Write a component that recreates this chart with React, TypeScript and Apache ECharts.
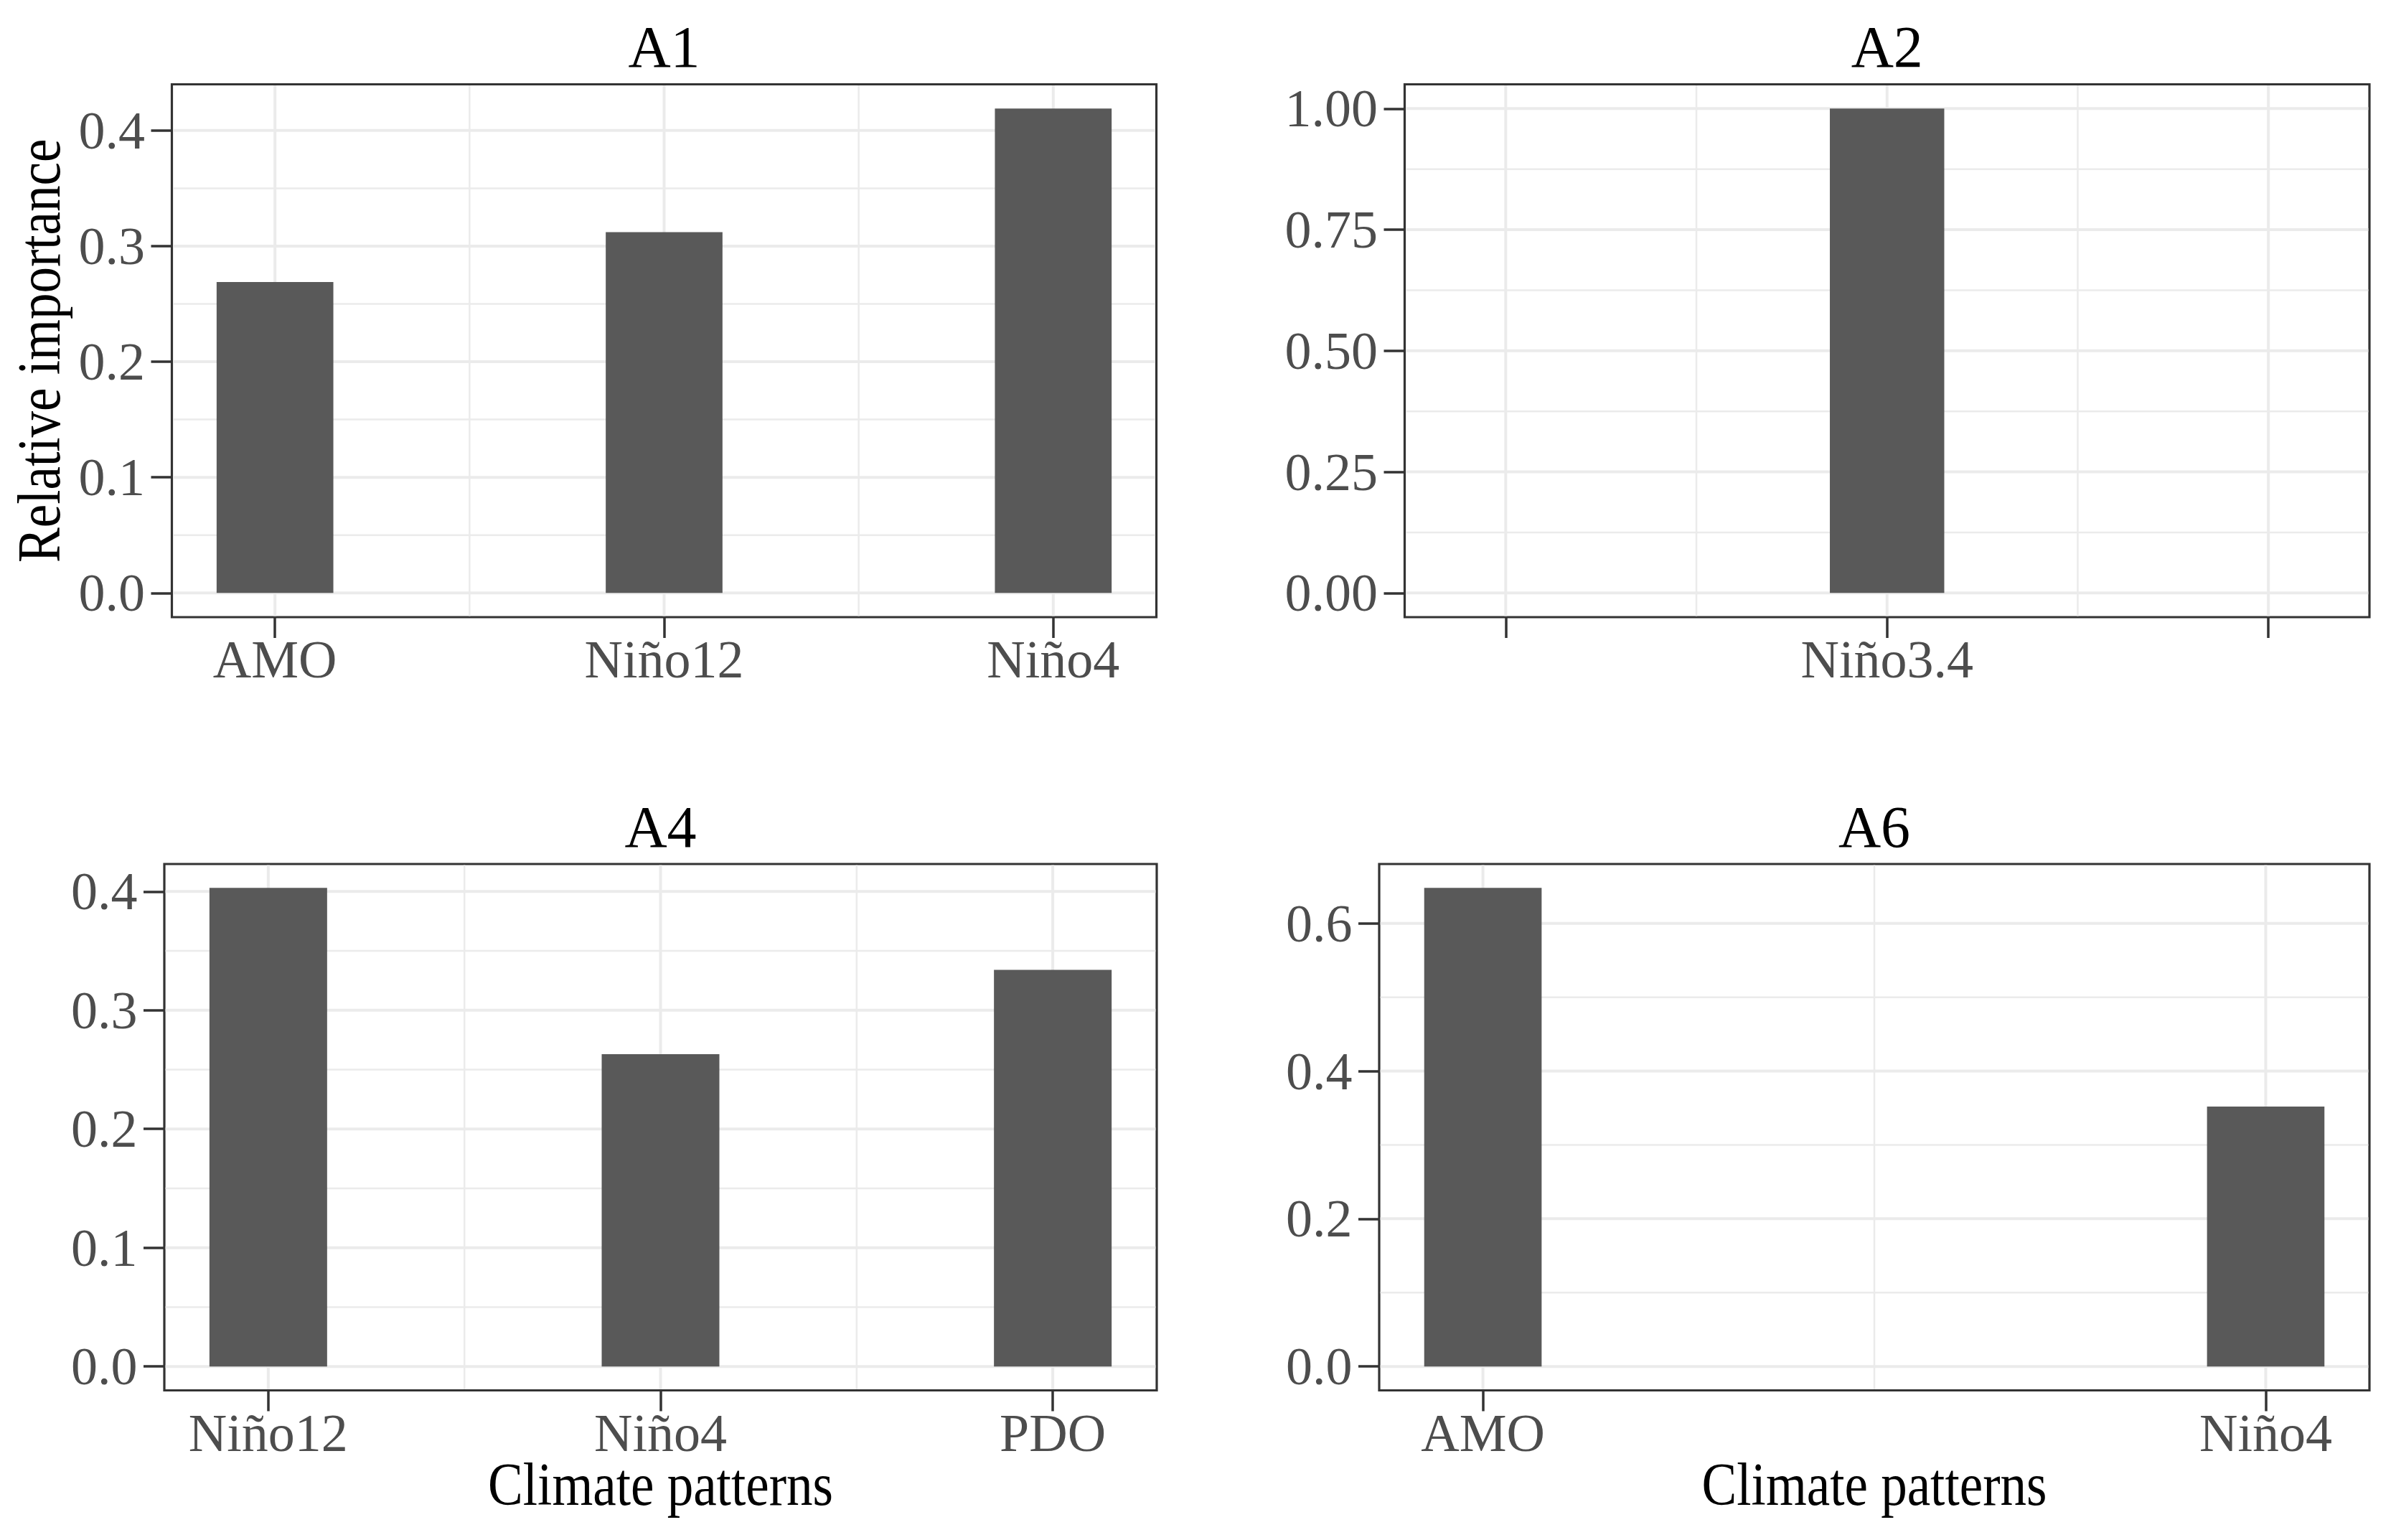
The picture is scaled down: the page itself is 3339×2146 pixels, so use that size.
import React, { useEffect, useRef } from 'react';
import * as echarts from 'echarts';

// ---------- data ----------
const a1Categories = ['AMO', 'Niño12', 'Niño4'];
const a1Values = [0.269, 0.312, 0.419];
const a2Categories = ['', 'Niño3.4', ''];
const a2Values: (number | null)[] = [null, 1.0, null];
const a4Categories = ['Niño12', 'Niño4', 'PDO'];
const a4Values = [0.403, 0.263, 0.334];
const a6Categories = ['AMO', 'Niño4'];
const a6Values = [0.648, 0.352];

const a1YTicks = [0, 0.1, 0.2, 0.3, 0.4];
const a1YLabels = ['0.0', '0.1', '0.2', '0.3', '0.4'];
const a1YMinor = [0.05, 0.15, 0.25, 0.35];
const a2YTicks = [0, 0.25, 0.5, 0.75, 1];
const a2YLabels = ['0.00', '0.25', '0.50', '0.75', '1.00'];
const a2YMinor = [0.125, 0.375, 0.625, 0.875];
const a4YTicks = [0, 0.1, 0.2, 0.3, 0.4];
const a4YLabels = ['0.0', '0.1', '0.2', '0.3', '0.4'];
const a4YMinor = [0.05, 0.15, 0.25, 0.35];
const a6YTicks = [0, 0.2, 0.4, 0.6];
const a6YLabels = ['0.0', '0.2', '0.4', '0.6'];
const a6YMinor = [0.1, 0.3, 0.5];

const panelTitles = ['A1', 'A2', 'A4', 'A6'];
const barWidths = [0.3, 0.3, 0.3, 0.15];
const yAxisTitle = 'Relative importance';
const xAxisTitle = 'Climate patterns';

// ---------- layout / style ----------
const layout = [
  { left: 239.5, top: 117.5, width: 1372, height: 742.5 },
  { left: 1957.5, top: 117.5, width: 1344.5, height: 742.5 },
  { left: 229, top: 1204, width: 1383, height: 733.5 },
  { left: 1922, top: 1204, width: 1380, height: 733.5 },
];
const FONT = 'Liberation Serif';
const BAR = '#595959';
const GRIDC = '#EBEBEB';
const DARK = '#333333';
const LABELC = '#4D4D4D';

const panels = [
  { cats: a1Categories, vals: a1Values, yTicks: a1YTicks, yLabels: a1YLabels, yMinor: a1YMinor },
  { cats: a2Categories, vals: a2Values, yTicks: a2YTicks, yLabels: a2YLabels, yMinor: a2YMinor },
  { cats: a4Categories, vals: a4Values, yTicks: a4YTicks, yLabels: a4YLabels, yMinor: a4YMinor },
  { cats: a6Categories, vals: a6Values, yTicks: a6YTicks, yLabels: a6YLabels, yMinor: a6YMinor },
];

function buildOption() {
  const grid: any[] = [];
  const xAxis: any[] = [];
  const yAxis: any[] = [];
  const series: any[] = [];
  const graphic: any[] = [];

  panels.forEach((p, i) => {
    const L = layout[i];
    const n = p.cats.length;
    const w = barWidths[i];
    const xPad = w / 2 + 0.05 * (n - 1 + w);
    const xMin = -xPad;
    const xMax = n - 1 + xPad;
    const maxV = Math.max(...(p.vals.filter((v) => v != null) as number[]));
    const yPad = 0.05 * maxV;
    const yMin = -yPad;
    const yMax = maxV + yPad;
    const xTicks = p.cats.map((_, k) => k);
    const xMinor = p.cats.slice(0, n - 1).map((_, k) => k + 0.5);

    grid.push({
      left: L.left,
      top: L.top,
      width: L.width,
      height: L.height,
      show: true,
      borderColor: DARK,
      borderWidth: 3.2,
      backgroundColor: 'transparent',
      containLabel: false,
      outerBoundsMode: 'none',
    });

    xAxis.push({
      type: 'value',
      gridIndex: i,
      min: xMin,
      max: xMax,
      axisLine: { show: false, onZero: false },
      splitLine: { show: false },
      minorSplitLine: { show: false },
      axisTick: {
        show: true,
        customValues: xTicks,
        length: 29,
        lineStyle: { color: DARK, width: 3.5 },
      },
      axisLabel: {
        customValues: xTicks,
        formatter: (v: number) => p.cats[Math.round(v)] ?? '',
        margin: 22,
        fontFamily: FONT,
        fontSize: 74,
        lineHeight: 74,
        color: LABELC,
      },
    });

    yAxis.push({
      type: 'value',
      gridIndex: i,
      min: yMin,
      max: yMax,
      axisLine: { show: false, onZero: false },
      splitLine: { show: false },
      minorSplitLine: { show: false },
      axisTick: {
        show: true,
        customValues: p.yTicks,
        length: 29,
        lineStyle: { color: DARK, width: 3.5 },
      },
      axisLabel: {
        customValues: p.yTicks,
        formatter: (v: number) => {
          const k = p.yTicks.findIndex((t) => Math.abs(t - v) < 1e-6);
          return k >= 0 ? p.yLabels[k] : '';
        },
        margin: 37.5,
        fontFamily: FONT,
        fontSize: 74,
        lineHeight: 74,
        color: LABELC,
      },
    });

    // horizontal grid lines
    const hData = [
      ...p.yMinor.map((v) => [v, 0]),
      ...p.yTicks.map((v) => [v, 1]),
    ];
    series.push({
      type: 'custom',
      xAxisIndex: i,
      yAxisIndex: i,
      silent: true,
      z: 1,
      encode: { y: 0 },
      data: hData,
      renderItem: (params: any, api: any) => {
        const cs = params.coordSys;
        const y = api.coord([xMin, api.value(0)])[1];
        const major = api.value(1) === 1;
        return {
          type: 'line',
          shape: { x1: cs.x + 1.6, y1: y, x2: cs.x + cs.width - 1.6, y2: y },
          style: { stroke: GRIDC, lineWidth: major ? 4 : 2.5 },
        };
      },
    });
    // vertical grid lines
    const vData = [
      ...xMinor.map((v) => [v, 0]),
      ...xTicks.map((v) => [v, 1]),
    ];
    series.push({
      type: 'custom',
      xAxisIndex: i,
      yAxisIndex: i,
      silent: true,
      z: 1,
      encode: { x: 0 },
      data: vData,
      renderItem: (params: any, api: any) => {
        const cs = params.coordSys;
        const x = api.coord([api.value(0), 0])[0];
        const major = api.value(1) === 1;
        return {
          type: 'line',
          shape: { x1: x, y1: cs.y + 1.6, x2: x, y2: cs.y + cs.height - 1.6 },
          style: { stroke: GRIDC, lineWidth: major ? 4 : 2.5 },
        };
      },
    });
    // bars
    const barData: number[][] = [];
    p.vals.forEach((v, k) => {
      if (v != null) barData.push([k, v]);
    });
    series.push({
      type: 'custom',
      name: panelTitles[i],
      xAxisIndex: i,
      yAxisIndex: i,
      z: 2,
      encode: { x: 0, y: 1 },
      data: barData,
      renderItem: (_params: any, api: any) => {
        const x = api.value(0);
        const v = api.value(1);
        const p0 = api.coord([x - w / 2, 0]);
        const p1 = api.coord([x + w / 2, v]);
        return {
          type: 'rect',
          shape: { x: p0[0], y: p1[1], width: p1[0] - p0[0], height: p0[1] - p1[1] },
          style: { fill: BAR },
        };
      },
    });

    // panel title
    graphic.push({
      type: 'text',
      x: L.left + L.width / 2,
      y: L.top - 52,
      style: {
        text: panelTitles[i],
        fontFamily: FONT,
        fontSize: 82,
        fill: '#000000',
        align: 'center',
        verticalAlign: 'middle',
      },
    });
  });

  // y-axis title (A1 only)
  graphic.push({
    type: 'text',
    x: 54.6,
    y: layout[0].top + layout[0].height / 2,
    rotation: Math.PI / 2,
    scaleX: 0.87,
    style: {
      text: yAxisTitle,
      fontFamily: FONT,
      fontSize: 84,
      fill: '#000000',
      align: 'center',
      verticalAlign: 'middle',
    },
  });
  // x-axis titles (bottom row)
  [2, 3].forEach((i) => {
    const L = layout[i];
    graphic.push({
      type: 'text',
      x: L.left + L.width / 2,
      y: 2068.6,
      scaleX: 0.87,
      style: {
        text: xAxisTitle,
        fontFamily: FONT,
        fontSize: 84,
        fill: '#000000',
        align: 'center',
        verticalAlign: 'middle',
      },
    });
  });

  return {
    animation: false,
    backgroundColor: '#ffffff',
    grid,
    xAxis,
    yAxis,
    series,
    graphic,
  };
}

export default function App() {
  const ref = useRef<HTMLDivElement>(null);
  useEffect(() => {
    if (!ref.current) return;
    const chart = echarts.init(ref.current, undefined, { renderer: 'svg' });
    chart.setOption(buildOption() as any);
    return () => {
      chart.dispose();
    };
  }, []);
  return (
    <div
      ref={ref}
      style={{ position: 'absolute', left: 0, top: 0, width: 3339, height: 2146 }}
    />
  );
}
